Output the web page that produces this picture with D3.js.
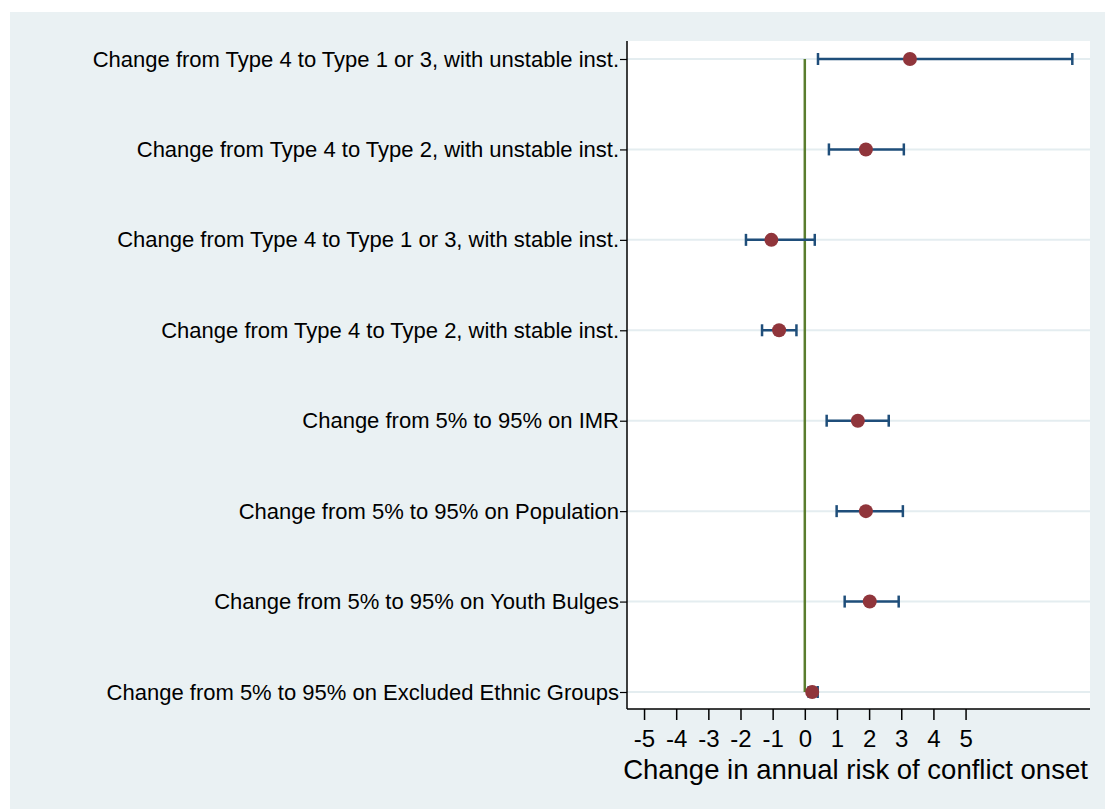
<!DOCTYPE html>
<html lang="en">
<head>
    <meta charset="UTF-8">
    <title>Change in annual risk of conflict onset</title>
    <script src="https://cdn.jsdelivr.net/npm/d3@7"></script>
    <style>
        body { margin: 0; background: #fff; }
        text { font-family: "Liberation Sans", Arial, sans-serif; }
    </style>
</head>
<body>
<script>
    const categories = [
        'Change from Type 4 to Type 1 or 3, with unstable inst.',
        'Change from Type 4 to Type 2, with unstable inst.',
        'Change from Type 4 to Type 1 or 3, with stable inst.',
        'Change from Type 4 to Type 2, with stable inst.',
        'Change from 5% to 95% on IMR',
        'Change from 5% to 95% on Population',
        'Change from 5% to 95% on Youth Bulges',
        'Change from 5% to 95% on Excluded Ethnic Groups'
    ]
    const estimates = [3.27, 1.9, -1.04, -0.8, 1.65, 1.9, 2.02, 0.23]
    const lower = [0.41, 0.75, -1.83, -1.33, 0.68, 0.99, 1.24, 0.12]
    const upper = [8.32, 3.08, 0.31, -0.26, 2.61, 3.05, 2.92, 0.4]
    const xTicks = [-5, -4, -3, -2, -1, 0, 1, 2, 3, 4, 5]

    const [width, height] = [1105, 809]
    const plot = { left: 627, right: 1090, top: 41, bottom: 709 }

    const svg = d3.select('body')
        .append('svg')
            .attr('width', width)
            .attr('height', height)

    // graph region background
    svg.append('rect')
        .attr('x', 10).attr('y', 12)
        .attr('width', width - 10).attr('height', height - 12)
        .attr('fill', '#eaf1f3')
    svg.append('rect')
        .attr('x', plot.left).attr('y', plot.top)
        .attr('width', plot.right - plot.left).attr('height', plot.bottom - plot.top)
        .attr('fill', '#ffffff')

    const x = d3.scaleLinear().domain([-5.53, 8.87]).range([plot.left, plot.right])
    const y = d3.scalePoint().domain(categories).range([59, 692])

    // grid lines at each category
    svg.append('g').selectAll('line')
        .data(categories)
        .join('line')
            .attr('x1', plot.left).attr('x2', plot.right)
            .attr('y1', d => y(d)).attr('y2', d => y(d))
            .attr('stroke', '#e4edf0')
            .attr('stroke-width', 2)

    // y axis
    const yAxis = d3.axisLeft(y).tickSize(7).tickPadding(1)
    const gy = svg.append('g').attr('class', 'y-axis')
        .attr('transform', `translate(${plot.left}, 0)`)
        .call(yAxis)
    gy.select('.domain').remove()
    gy.append('line')
        .attr('x1', 0).attr('x2', 0)
        .attr('y1', plot.top).attr('y2', plot.bottom)
        .attr('stroke', '#000').attr('stroke-width', 1.5)
    gy.selectAll('.tick line').attr('stroke', '#000').attr('stroke-width', 1.2)
    gy.selectAll('.tick text')
        .attr('font-size', 22)
        .attr('fill', '#000')
        .style('font-family', '"Liberation Sans", Arial, sans-serif')

    // x axis (plain hyphen for negatives, as in the original)
    const xAxis = d3.axisBottom(x).tickValues(xTicks).tickFormat(d => String(d))
        .tickSize(11).tickPadding(10)
    const gx = svg.append('g').attr('class', 'x-axis')
        .attr('transform', `translate(0, ${plot.bottom})`)
        .call(xAxis)
    gx.select('.domain').remove()
    gx.append('line')
        .attr('x1', plot.left).attr('x2', plot.right)
        .attr('y1', 0).attr('y2', 0)
        .attr('stroke', '#000').attr('stroke-width', 1.5)
    gx.selectAll('.tick line').attr('stroke', '#000').attr('stroke-width', 1.5)
    gx.selectAll('.tick text')
        .attr('font-size', 24)
        .attr('fill', '#000')
        .style('font-family', '"Liberation Sans", Arial, sans-serif')

    svg.append('text')
        .attr('x', (plot.left + plot.right) / 2 - 3)
        .attr('y', 779)
        .attr('text-anchor', 'middle')
        .attr('font-size', 27.5)
        .attr('fill', '#000')
        .text('Change in annual risk of conflict onset')

    // reference line at zero
    svg.append('line')
        .attr('x1', x(0)).attr('x2', x(0))
        .attr('y1', y(categories[0])).attr('y2', y(categories[categories.length - 1]))
        .attr('stroke', '#5a7d2e')
        .attr('stroke-width', 2.5)

    // confidence intervals
    const ci = svg.append('g').selectAll('g')
        .data(categories)
        .join('g')
    ci.append('line')
        .attr('x1', (d, i) => x(lower[i])).attr('x2', (d, i) => x(upper[i]))
        .attr('y1', d => y(d)).attr('y2', d => y(d))
        .attr('stroke', '#1f4e7a').attr('stroke-width', 2.5)
    ci.append('line')
        .attr('x1', (d, i) => x(lower[i])).attr('x2', (d, i) => x(lower[i]))
        .attr('y1', d => y(d) - 6).attr('y2', d => y(d) + 6)
        .attr('stroke', '#1f4e7a').attr('stroke-width', 2.5)
    ci.append('line')
        .attr('x1', (d, i) => x(upper[i])).attr('x2', (d, i) => x(upper[i]))
        .attr('y1', d => y(d) - 6).attr('y2', d => y(d) + 6)
        .attr('stroke', '#1f4e7a').attr('stroke-width', 2.5)

    // point estimates
    svg.append('g').selectAll('circle')
        .data(categories)
        .join('circle')
            .attr('cx', (d, i) => x(estimates[i]))
            .attr('cy', d => y(d))
            .attr('r', 7)
            .attr('fill', '#90353b')
</script>
</body>
</html>
